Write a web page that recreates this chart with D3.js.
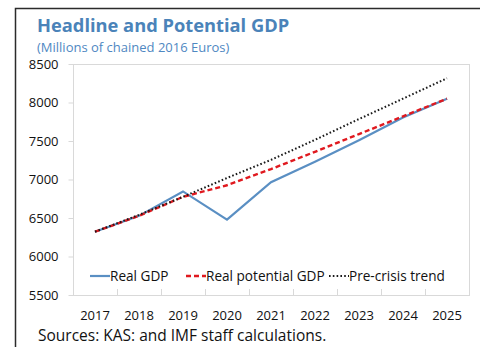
<!DOCTYPE html>
<html>
<head>
<meta charset="utf-8">
<script src="https://cdn.jsdelivr.net/npm/d3@7"></script>
<style>
  html, body { margin: 0; padding: 0; background: #fff; }
  svg { display: block; font-family: "Open Sans", "Noto Sans", sans-serif; }
</style>
</head>
<body>
<div id="chart"></div>
<script>
// Chart data
const years = ["2017", "2018", "2019", "2020", "2021", "2022", "2023", "2024", "2025"];
const realGdp = [6322, 6528, 6845, 6478, 6965, 7230, 7510, 7805, 8050];
const potentialGdp = [6322, 6528, 6775, 6925, 7135, 7360, 7590, 7820, 8050];
const preCrisisTrend = [6322, 6540, 6775, 7020, 7255, 7515, 7785, 8050, 8315];
const yTicks = [5500, 6000, 6500, 7000, 7500, 8000, 8500];

const series = [
    {name: "Real GDP", values: realGdp, color: "#5a8fc3", width: 2.2, dash: null},
    {name: "Real potential GDP", values: potentialGdp, color: "#e0191f", width: 2.4, dash: "5,3"},
    {name: "Pre-crisis trend", values: preCrisisTrend, color: "#1a1a1a", width: 2, dash: "1.6,2.2"}
];

const width = 480, height = 347;
const plot = {left: 73, top: 64, right: 469, bottom: 295};

const svg = d3.select("#chart").append("svg")
    .attr("width", width)
    .attr("height", height);

// Outer frame (only left and top edges show inside the crop)
svg.append("path")
    .attr("d", `M15.5,${height} L15.5,8.5 L${width},8.5`)
    .attr("fill", "none")
    .attr("stroke", "#2b2b2b")
    .attr("stroke-width", 1.5);

// Title and subtitle
svg.append("text")
    .attr("x", 37).attr("y", 32)
    .attr("font-size", 18.3)
    .attr("font-weight", "bold")
    .attr("fill", "#4a83b9")
    .text("Headline and Potential GDP");

svg.append("text")
    .attr("x", 37).attr("y", 52)
    .attr("font-size", 13)
    .attr("fill", "#4f88c2")
    .text("(Millions of chained 2016 Euros)");

// Scales
const x = d3.scaleBand()
    .domain(years)
    .range([plot.left, plot.right]);

const y = d3.scaleLinear()
    .domain([5500, 8500])
    .range([plot.bottom, plot.top]);

// Plot area border
svg.append("rect")
    .attr("x", plot.left + 0.5)
    .attr("y", plot.top + 0.5)
    .attr("width", plot.right - plot.left)
    .attr("height", plot.bottom - plot.top)
    .attr("fill", "none")
    .attr("stroke", "#d9d9d9")
    .attr("stroke-width", 1);

// Y axis: ticks outside the left edge, labels right-aligned
const yAxis = d3.axisLeft(y)
    .tickValues(yTicks)
    .tickSize(5)
    .tickPadding(10)
    .tickFormat(d3.format("d"));

const yG = svg.append("g")
    .attr("transform", `translate(${plot.left + 0.5},0)`)
    .call(yAxis);
yG.select(".domain").remove();
yG.selectAll(".tick line").attr("stroke", "#d9d9d9");
yG.selectAll(".tick text")
    .attr("font-size", 13)
    .attr("font-family", "'Open Sans', sans-serif")
    .attr("fill", "#111");

// X axis: ticks between categories, pointing up into the plot
const boundaries = years.map(d => x(d)).concat([plot.right]);
svg.append("g").selectAll("line")
    .data(boundaries)
    .enter().append("line")
    .attr("x1", d => Math.round(d) + 0.5)
    .attr("x2", d => Math.round(d) + 0.5)
    .attr("y1", plot.bottom - 6)
    .attr("y2", plot.bottom)
    .attr("stroke", "#d9d9d9");

svg.append("g").selectAll("text")
    .data(years)
    .enter().append("text")
    .attr("x", d => x(d) + x.bandwidth() / 2)
    .attr("y", 320)
    .attr("text-anchor", "middle")
    .attr("font-size", 13)
    .attr("fill", "#111")
    .text(d => d);

// Lines
const line = d3.line()
    .x((d, i) => x(years[i]) + x.bandwidth() / 2)
    .y(d => y(d));

// Draw order: blue at the back, then red, dotted on top
svg.append("g").selectAll("path")
    .data(series)
    .enter().append("path")
    .attr("d", d => line(d.values))
    .attr("fill", "none")
    .attr("stroke", d => d.color)
    .attr("stroke-width", d => d.width)
    .attr("stroke-dasharray", d => d.dash)
    .attr("stroke-linejoin", "miter");

// Legend inside the plot, near the bottom
const legendX = [90, 186, 329];
const legend = svg.append("g").selectAll("g")
    .data(series)
    .enter().append("g")
    .attr("transform", (d, i) => `translate(${legendX[i]},276)`);

legend.append("line")
    .attr("x1", 0).attr("x2", 20)
    .attr("y1", 0).attr("y2", 0)
    .attr("stroke", d => d.color)
    .attr("stroke-width", d => d.width)
    .attr("stroke-dasharray", d => d.dash);

legend.append("text")
    .attr("x", 20)
    .attr("y", 4.8)
    .attr("font-size", 13.6)
    .attr("fill", "#111")
    .text(d => d.name);

// Source note
svg.append("text")
    .attr("x", 38).attr("y", 341)
    .attr("font-size", 15.5)
    .attr("fill", "#111")
    .text("Sources: KAS: and IMF staff calculations.");
</script>
</body>
</html>
